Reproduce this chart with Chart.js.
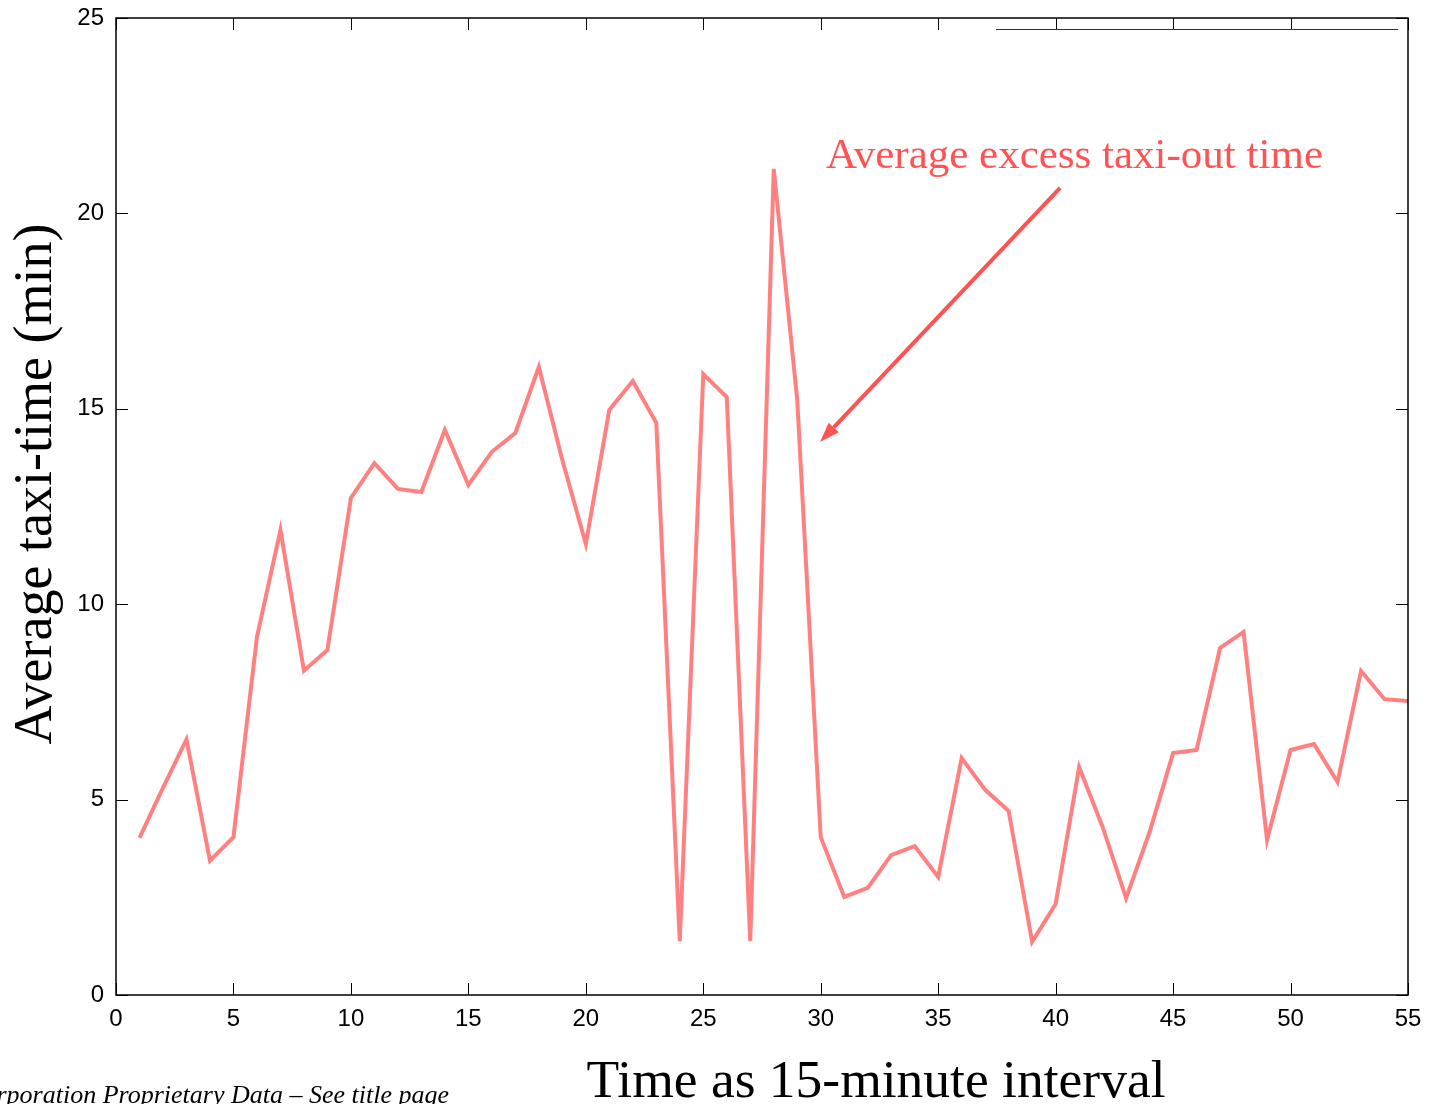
<!DOCTYPE html>
<html>
<head>
<meta charset="utf-8">
<title>Average taxi-time</title>
<script src="https://cdn.jsdelivr.net/npm/chart.js@4.4.0/dist/chart.umd.min.js"></script>
<style type="text/css">
	html, body { margin: 0; padding: 0; background: #ffffff; overflow: hidden; }
	#graphContainer { position: relative; width: 1430px; height: 1104px; }
</style>
</head>
<body>

	<div id="graphContainer">
		<canvas id="taxiChart" width="1430" height="1104"></canvas>
	</div>

	<script type="text/javascript">

	// 15-minute intervals and average taxi-out time (min)
	var intervals = [1, 2, 3, 4, 5, 6, 7, 8, 9, 10, 11, 12, 13, 14, 15, 16, 17, 18, 19, 20,
		21, 22, 23, 24, 25, 26, 27, 28, 29, 30, 31, 32, 33, 34, 35, 36, 37, 38, 39, 40,
		41, 42, 43, 44, 45, 46, 47, 48, 49, 50, 51, 52, 53, 54, 55, 56];
	var taxiTimes = [4.02, 5.3, 6.54, 3.44, 4.04, 9.16, 11.9, 8.3, 8.83, 12.72,
		13.61, 12.95, 12.87, 14.46, 13.05, 13.9, 14.38, 16.07, 13.69, 11.54,
		14.97, 15.71, 14.64, 1.38, 15.89, 15.3, 1.38, 21.14, 15.23, 4.04,
		2.51, 2.74, 3.58, 3.81, 3.02, 6.06, 5.25, 4.71, 1.36, 2.33,
		5.83, 4.3, 2.48, 4.17, 6.19, 6.27, 8.88, 9.29, 3.97, 6.27,
		6.42, 5.45, 8.29, 7.57, 7.52, 1.4];

	var xTicks = [0, 5, 10, 15, 20, 25, 30, 35, 40, 45, 50, 55];
	var yTicks = [0, 5, 10, 15, 20, 25];

	var xTitle = 'Time as 15-minute interval';
	var yTitle = 'Average taxi-time (min)';
	var noteText = 'Average excess taxi-out time';
	var footerText = 'Corporation Proprietary Data \u2013 See title page';

	var points = [];
	for (var i = 0; i < intervals.length; i++) {
		points.push({ x: intervals[i], y: taxiTimes[i] });
	}

	var frame = {
		id: 'frame',
		beforeDraw: function (chart) {
			var ctx = chart.ctx;
			ctx.save();
			ctx.fillStyle = '#ffffff';
			ctx.fillRect(0, 0, chart.width, chart.height);
			ctx.restore();
		},
		afterDraw: function (chart) {
			var ctx = chart.ctx;
			var a = chart.chartArea;
			var xs = chart.scales.x;
			var ys = chart.scales.y;
			var t = 12;

			ctx.save();
			ctx.strokeStyle = '#000000';
			ctx.lineWidth = 1.5;
			ctx.strokeRect(a.left, a.top, a.right - a.left, a.bottom - a.top);

			// inner tick marks on all four sides
			ctx.lineWidth = 1;
			ctx.beginPath();
			xTicks.forEach(function (v) {
				var px = Math.round(xs.getPixelForValue(v)) + 0.5;
				ctx.moveTo(px, a.bottom); ctx.lineTo(px, a.bottom - t);
				ctx.moveTo(px, a.top); ctx.lineTo(px, a.top + t);
			});
			yTicks.forEach(function (v) {
				var py = Math.round(ys.getPixelForValue(v)) + 0.5;
				ctx.moveTo(a.left, py); ctx.lineTo(a.left + t, py);
				ctx.moveTo(a.right, py); ctx.lineTo(a.right - t, py);
			});
			ctx.stroke();

			// leftover legend edge at the top right
			ctx.strokeStyle = '#333333';
			ctx.beginPath();
			ctx.moveTo(996, 29.5); ctx.lineTo(1398, 29.5);
			ctx.stroke();

			// axis titles
			ctx.fillStyle = '#000000';
			ctx.font = '53.5px "Liberation Serif"';
			ctx.textAlign = 'center';
			ctx.textBaseline = 'alphabetic';
			ctx.fillText(xTitle, 876, 1097);

			ctx.save();
			ctx.font = '54px "Liberation Serif"';
			ctx.translate(51, 484);
			ctx.rotate(-Math.PI / 2);
			ctx.fillText(yTitle, 0, 0);
			ctx.restore();

			// footer
			ctx.font = 'italic 26px "Liberation Serif"';
			ctx.textAlign = 'right';
			ctx.fillText(footerText, 449, 1103);

			// annotation with arrow
			var red = '#ff5252';
			ctx.fillStyle = red;
			ctx.font = '43px "Liberation Serif"';
			ctx.textAlign = 'left';
			ctx.fillText(noteText, xs.getPixelForValue(30.22), ys.getPixelForValue(21.16));

			var x0 = xs.getPixelForValue(40.19), y0 = ys.getPixelForValue(20.65);
			var x1 = xs.getPixelForValue(29.97), y1 = ys.getPixelForValue(14.15);
			var ang = Math.atan2(y1 - y0, x1 - x0);
			var hl = 20, hw = 7;
			var bx = x1 - hl * Math.cos(ang), by = y1 - hl * Math.sin(ang);
			ctx.strokeStyle = red;
			ctx.lineWidth = 4;
			ctx.beginPath();
			ctx.moveTo(x0, y0); ctx.lineTo(bx, by);
			ctx.stroke();
			ctx.beginPath();
			ctx.moveTo(x1, y1);
			ctx.lineTo(bx + hw * Math.sin(ang), by - hw * Math.cos(ang));
			ctx.lineTo(bx - hw * Math.sin(ang), by + hw * Math.cos(ang));
			ctx.closePath();
			ctx.fill();
			ctx.restore();
		}
	};

	var ctx = document.getElementById('taxiChart').getContext('2d');
	var chartJS = new Chart(ctx, {
		type: 'line',
		data: {
			datasets: [
				{
					data: points,
					borderColor: 'rgb(255, 128, 128)',
					borderWidth: 4,
					pointRadius: 0,
					tension: 0,
					clip: 0
				}
			]
		},
		options: {
			responsive: false,
			animation: false,
			layout: { padding: { left: 0, top: 18, right: 22, bottom: 0 } },
			plugins: {
				legend: { display: false },
				tooltip: { enabled: false }
			},
			scales: {
				x: {
					type: 'linear',
					min: 0,
					max: 55,
					afterBuildTicks: function (scale) {
						scale.ticks = xTicks.map(function (v) { return { value: v }; });
					},
					afterFit: function (scale) {
						scale.height = 109;
						scale.paddingLeft = 0;
						scale.paddingRight = 0;
					},
					grid: { display: false, drawTicks: false },
					border: { display: false },
					ticks: {
						maxRotation: 0,
						autoSkip: false,
						padding: 10,
						color: '#000000',
						font: { family: '"Liberation Sans"', size: 24 }
					}
				},
				y: {
					type: 'linear',
					min: 0,
					max: 25,
					afterBuildTicks: function (scale) {
						scale.ticks = yTicks.map(function (v) { return { value: v }; });
					},
					afterFit: function (scale) {
						scale.width = 116;
						scale.paddingTop = 0;
						scale.paddingBottom = 0;
					},
					grid: { display: false, drawTicks: false },
					border: { display: false },
					ticks: {
						padding: 12,
						color: '#000000',
						font: { family: '"Liberation Sans"', size: 24 }
					}
				}
			}
		},
		plugins: [frame]
	});

	</script>

</body>
</html>
